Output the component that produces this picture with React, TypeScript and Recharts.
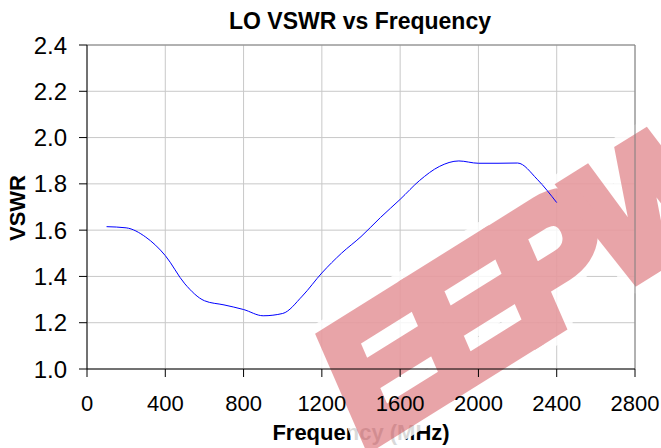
import React from "react";
import {
  LineChart,
  Line,
  XAxis,
  YAxis,
  CartesianGrid,
  ReferenceLine,
  Customized,
} from "recharts";

// LO port VSWR
const FREQ_MHZ = [
  100, 200, 300, 400, 500, 600, 700, 800, 900, 1000, 1100, 1200,
  1300, 1400, 1500, 1600, 1700, 1800, 1900, 2000, 2100, 2200, 2300, 2400,
];
const VSWR = [
  1.615, 1.61, 1.57, 1.49, 1.368, 1.295, 1.277, 1.257, 1.23, 1.24, 1.315, 1.415,
  1.5, 1.572, 1.655, 1.733, 1.815, 1.875, 1.899, 1.889, 1.889, 1.89, 1.82, 1.719,
];

const X_TICKS = [0, 400, 800, 1200, 1600, 2000, 2400, 2800];
const Y_TICKS = [1.0, 1.2, 1.4, 1.6, 1.8, 2.0, 2.2, 2.4];

const TITLE = "LO VSWR vs Frequency";
const X_LABEL = "Frequency (MHz)";
const Y_LABEL = "VSWR";
const WATERMARK = "EEPW";

const FONT = '"Liberation Sans", Arial, Helvetica, sans-serif';
const W = 661;
const H = 448;

const data = FREQ_MHZ.map((f, i) => ({ f, v: VSWR[i] }));

// title, axis titles and the faint watermark stamped over the plot
function Overlay() {
  const stamp = "matrix(0.85,-0.53,0.4,0.92,361,450)";
  return (
    <g fontFamily={FONT}>
      <text x={360} y={29} textAnchor="middle" fontSize={23} fontWeight="bold" fill="#000">
        {TITLE}
      </text>
      <text x={361} y={440} textAnchor="middle" fontSize={22} fontWeight="bold" fill="#000">
        {X_LABEL}
      </text>
      <text
        x={0}
        y={0}
        transform="translate(25,208) rotate(-90)"
        textAnchor="middle"
        fontSize={22}
        fontWeight="bold"
        fill="#000"
      >
        {Y_LABEL}
      </text>
      {/* white halo first, then the translucent red letters */}
      <g transform={stamp} fontSize={170} fontWeight="bold" letterSpacing={-15}>
        <text x={0} y={0} fill="#fff" stroke="#fff" strokeWidth={30} strokeLinejoin="round" opacity={0.85}>
          {WATERMARK}
        </text>
        <g opacity={0.4}>
          <text x={0} y={0} fill="rgb(200,30,40)" stroke="rgb(200,30,40)" strokeWidth={14} strokeLinejoin="miter">
            {WATERMARK}
          </text>
        </g>
      </g>
    </g>
  );
}

export default function App() {
  return (
    <div style={{ position: "absolute", left: 0, top: 0, width: W, height: H, background: "#fff" }}>
      <LineChart
        width={W}
        height={H}
        data={data}
        margin={{ top: 45, right: 26, bottom: 49, left: 0 }}
      >
        <CartesianGrid stroke="#c8c8c8" strokeWidth={1} />
        <XAxis
          dataKey="f"
          type="number"
          domain={[0, 2800]}
          ticks={X_TICKS}
          interval={0}
          height={30}
          tickSize={8}
          tickMargin={18}
          axisLine={{ stroke: "#000", strokeWidth: 1 }}
          tickLine={{ stroke: "#000" }}
          tick={{ fill: "#000", fontSize: 22, fontFamily: FONT }}
        />
        <YAxis
          type="number"
          domain={[1.0, 2.4]}
          ticks={Y_TICKS}
          interval={0}
          width={87}
          tickSize={8}
          tickMargin={12}
          tickFormatter={(v: number) => v.toFixed(1)}
          axisLine={{ stroke: "#000", strokeWidth: 1 }}
          tickLine={{ stroke: "#000" }}
          tick={{ fill: "#000", fontSize: 24, fontFamily: FONT }}
        />
        <ReferenceLine y={2.4} stroke="#808080" />
        <ReferenceLine x={2800} stroke="#808080" />
        <Line
          type="monotone"
          dataKey="v"
          stroke="#0000ff"
          strokeWidth={1}
          dot={false}
          isAnimationActive={false}
        />
        <Customized component={Overlay} />
      </LineChart>
    </div>
  );
}
